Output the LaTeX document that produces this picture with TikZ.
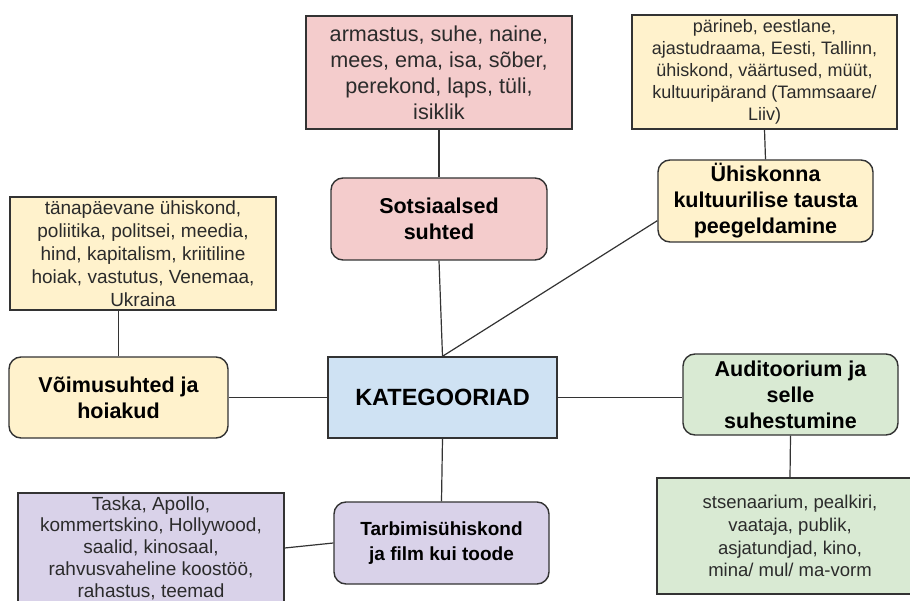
\documentclass[tikz,border=0pt]{standalone}
\usepackage{fontspec}
\setmainfont{Liberation Sans}
\definecolor{cpink}{HTML}{F4CCCC}
\definecolor{cyel}{HTML}{FFF2CC}
\definecolor{cblue}{HTML}{CFE2F3}
\definecolor{cgreen}{HTML}{D9EAD3}
\definecolor{cpurp}{HTML}{D9D2E9}
\definecolor{cedge}{HTML}{333333}
\definecolor{ctext}{HTML}{2B2B2B}
\begin{document}
\begin{tikzpicture}[x=1pt,y=-1pt,
  box/.style={draw=cedge, line width=1.4pt, align=center, inner sep=0pt, text=ctext},
  kwbox/.style={box, rectangle},
  catbox/.style={box, rounded corners=12pt, text=black, font=\bfseries\fontsize{21.5}{26}\selectfont},
  sz/.style 2 args={minimum width=#1pt, minimum height=#2pt},
  conn/.style={draw=cedge, line width=1.2pt}]
\useasboundingbox (0,0) rectangle (910,601);
\clip (0,0) rectangle (910,601);

% keyword boxes
\node[kwbox, sz={266}{113}, fill=cpink, font=\fontsize{21.6}{26}\selectfont] (pk) at (439,72.5)
  {armastus, suhe, naine,\\mees, ema, isa, sõber,\\perekond, laps, tüli,\\isiklik};
\node[kwbox, sz={265}{114}, fill=cyel, font=\fontsize{18}{22}\selectfont] (yr) at (764.5,72)
  {pärineb, eestlane,\\ajastudraama, Eesti, Tallinn,\\ühiskond, väärtused, müüt,\\kultuuripärand (Tammsaare/\\Liiv)};
\node[kwbox, sz={266}{113}, fill=cyel, font=\fontsize{19}{23}\selectfont] (yl) at (143,253.5)
  {tänapäevane ühiskond,\\poliitika, politsei, meedia,\\hind, kapitalism, kriitiline\\hoiak, vastutus, Venemaa,\\Ukraina};
\node[kwbox, sz={266}{116}, fill=cgreen, font=\fontsize{18.5}{22.8}\selectfont] (grn) at (790,536)
  {stsenaarium, pealkiri,\\vaataja, publik,\\asjatundjad, kino,\\mina/ mul/ ma-vorm};
\node[kwbox, sz={266}{110}, fill=cpurp, font=\fontsize{19}{21.8}\selectfont] (pur) at (151,548)
  {Taska, Apollo,\\kommertskino, Hollywood,\\saalid, kinosaal,\\rahvusvaheline koostöö,\\rahastus, teemad};

% category boxes
\node[catbox, sz={216}{82}, fill=cpink] (soc) at (439,219) {Sotsiaalsed\\suhted};
\node[catbox, sz={215}{82}, fill=cyel] (uh) at (765.5,201) {Ühiskonna\\kultuurilise tausta\\peegeldamine};
\node[catbox, sz={219}{81}, fill=cyel] (voi) at (118.5,397.5) {Võimusuhted ja\\hoiakud};
\node[catbox, sz={215}{81}, fill=cgreen] (aud) at (790.5,394.5) {Auditoorium ja\\selle\\suhestumine};
\node[catbox, sz={215}{82}, fill=cpurp, font=\bfseries\fontsize{19}{25}\selectfont] (tar) at (441.5,543) {Tarbimisühiskond\\ja film kui toode};
\node[kwbox, sz={229}{81}, fill=cblue, text=black, font=\bfseries\fontsize{23.5}{28}\selectfont] (kat) at (442.5,397.5) {KATEGOORIAD};

% connectors
\draw[conn] (pk.south) -- (soc.north);
\draw[conn] (soc.south) -- (kat.north);
\draw[conn] (kat.north) -- ([yshift=22pt]uh.south west);
\draw[conn] (yr.south) -- (uh.north);
\draw[conn] (voi.north) -- (voi.north |- yl.south);
\draw[conn] (kat.west) -- (voi.east);
\draw[conn] (kat.east) -- (kat.east -| aud.west);
\draw[conn] (aud.south) -- (grn.north);
\draw[conn] (kat.south) -- (tar.north);
\draw[conn] (pur.east) -- (tar.west);
\end{tikzpicture}
\end{document}
